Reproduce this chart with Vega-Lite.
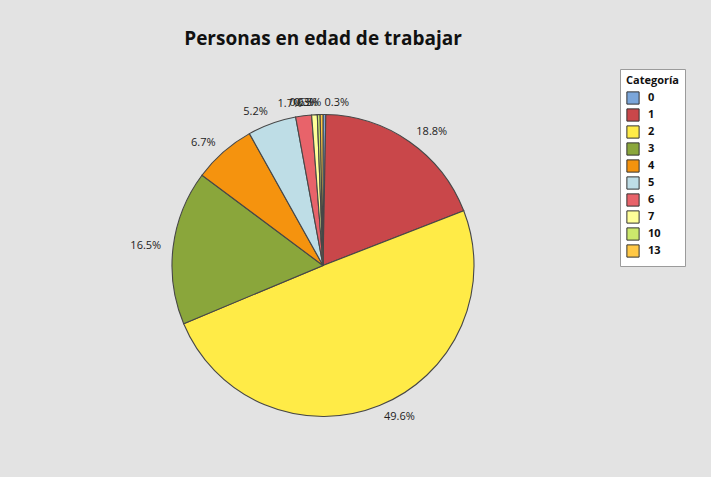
{
  "$schema": "https://vega.github.io/schema/vega-lite/v6.json",
  "width": 646,
  "height": 411,
  "autosize": {"type": "none"},
  "padding": {"left": 0, "top": 60, "right": 65, "bottom": 6},
  "background": "#e3e3e3",
  "config": {"view": {"stroke": null}, "font": "Open Sans"},
  "title": {"text": "Personas en edad de trabajar", "fontSize": 19, "fontWeight": "bold", "color": "#111111", "anchor": "middle", "offset": 11, "font": "Open Sans"},
  "data": {"values": [
    {"cat": 0, "share": 0.003},
    {"cat": 1, "share": 0.188},
    {"cat": 2, "share": 0.496},
    {"cat": 3, "share": 0.165},
    {"cat": 4, "share": 0.067},
    {"cat": 5, "share": 0.052},
    {"cat": 6, "share": 0.017},
    {"cat": 7, "share": 0.006},
    {"cat": 10, "share": 0.003},
    {"cat": 13, "share": 0.003}
  ]},
  "transform": [
    {"window": [{"op": "sum", "field": "share", "as": "cum"}], "sort": [{"field": "cat"}], "frame": [null, 0]},
    {"calculate": "datum.cum - datum.share / 2", "as": "mid"}
  ],
  "layer": [
    {
      "mark": {"type": "arc", "radius": 151, "stroke": "#474747", "strokeWidth": 1.1},
      "encoding": {
        "theta": {"field": "share", "type": "quantitative", "scale": {"domain": [0, 1]}},
        "order": {"field": "cat", "type": "quantitative"},
        "color": {
          "field": "cat",
          "type": "nominal",
          "title": "Categoría",
          "scale": {
            "domain": [0, 1, 2, 3, 4, 5, 6, 7, 10, 13],
            "range": ["#7ba6da", "#c9474a", "#ffeb47", "#8aa63b", "#f5930e", "#bedde6", "#e8636a", "#ffff99", "#cce86c", "#ffc845"]
          },
          "legend": {
            "orient": "none",
            "legendX": 620,
            "legendY": 9,
            "titleFontSize": 11,
            "titleFontWeight": "bold",
            "titleColor": "#111111",
            "titleAnchor": "start",
            "titlePadding": 5,
            "padding": 6,
            "fillColor": "#ffffff",
            "strokeColor": "#9b9b9b",
            "symbolType": "square",
            "symbolSize": 150,
            "symbolStrokeColor": "#333333",
            "symbolStrokeWidth": 1,
            "symbolOpacity": 1,
            "labelFontSize": 11,
            "labelFontWeight": "bold",
            "labelColor": "#111111",
            "labelOffset": 8,
            "rowPadding": -1
          }
        }
      }
    },
    {
      "transform": [{"filter": "datum.mid < 0.5"}],
      "mark": {"type": "text", "radius": 163, "align": "left", "baseline": "middle", "fontSize": 11, "color": "#222222"},
      "encoding": {
        "theta": {"field": "mid", "type": "quantitative", "stack": null},
        "text": {"field": "share", "type": "quantitative", "format": ".1%"}
      }
    },
    {
      "transform": [{"filter": "datum.mid >= 0.5"}],
      "mark": {"type": "text", "radius": 163, "align": "right", "baseline": "middle", "fontSize": 11, "color": "#222222"},
      "encoding": {
        "theta": {"field": "mid", "type": "quantitative", "stack": null},
        "text": {"field": "share", "type": "quantitative", "format": ".1%"}
      }
    }
  ]
}
